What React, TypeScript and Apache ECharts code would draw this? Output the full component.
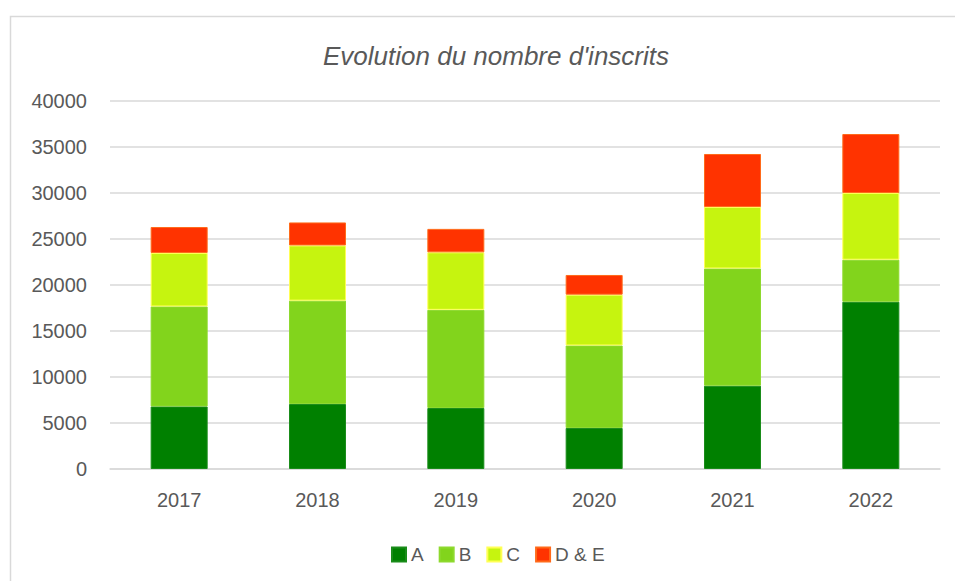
import React, { useEffect, useRef } from "react";
import * as echarts from "echarts";

const years = ["2017", "2018", "2019", "2020", "2021", "2022"];
const seriesA = [6800, 7070, 6630, 4460, 9050, 18180];
const seriesB = [10870, 11230, 10670, 8970, 12750, 4570];
const seriesC = [5810, 6000, 6250, 5520, 6680, 7250];
const seriesDE = [2820, 2500, 2550, 2140, 5760, 6410];
const seriesNames = ["A", "B", "C", "D & E"];
const titleText = "Evolution du nombre d'inscrits";

const FONT = "'Liberation Sans', Arial, sans-serif";
const TEXT = "#595959";

export default function App() {
  const ref = useRef<HTMLDivElement>(null);
  useEffect(() => {
    if (!ref.current) return;
    const chart = echarts.init(ref.current, null, { renderer: "svg" });
    const colors = ["#008000", "#82D41C", "#C6F40F", "#FF3300"];
    const borders = ["#1a8c1a", "#8ed92e", "#FFFF55", "#FF6A1A"];
    const datas = [seriesA, seriesB, seriesC, seriesDE];
    chart.setOption({
      animation: false,
      backgroundColor: "#ffffff",
      textStyle: { fontFamily: FONT },
      title: {
        text: titleText,
        left: 491,
        textAlign: "center",
        top: 38,
        textStyle: {
          fontFamily: FONT,
          fontStyle: "italic",
          fontWeight: "normal",
          fontSize: 26,
          color: TEXT,
        },
      },
      graphic: [
        {
          type: "rect",
          shape: { x: 10.5, y: 16.5, width: 1000, height: 700 },
          style: { fill: "none", stroke: "#d9d9d9", lineWidth: 1.5 },
          silent: true,
        },
      ],
      legend: {
        data: seriesNames,
        left: 386,
        top: 540,
        itemWidth: 14,
        itemHeight: 14,
        itemGap: 15,
        textStyle: { fontFamily: FONT, fontSize: 19, color: TEXT },
        icon: "rect",
      },
      grid: { left: 110, right: 15, top: 101, bottom: 112, containLabel: false },
      xAxis: {
        type: "category",
        data: years,
        axisLine: { lineStyle: { color: "#d9d9d9", width: 1.5 } },
        axisTick: { show: false },
        axisLabel: { color: TEXT, fontSize: 20, fontFamily: FONT, margin: 21 },
      },
      yAxis: {
        type: "value",
        min: 0,
        max: 40000,
        interval: 5000,
        axisLine: { show: false },
        axisTick: { show: false },
        axisLabel: {
          color: TEXT,
          fontSize: 20,
          fontFamily: FONT,
          margin: 23,
          formatter: (v: number) => String(v),
        },
        splitLine: { lineStyle: { color: "#d9d9d9", width: 1.5 } },
      },
      series: datas.map((d, i) => ({
        name: seriesNames[i],
        type: "bar",
        stack: "total",
        data: d,
        barWidth: 57,
        itemStyle: { color: colors[i], borderColor: borders[i], borderWidth: 1 },
      })),
    });
    return () => chart.dispose();
  }, []);
  return (
    <div
      ref={ref}
      style={{ position: "fixed", left: 0, top: 0, width: 955, height: 581 }}
    />
  );
}
